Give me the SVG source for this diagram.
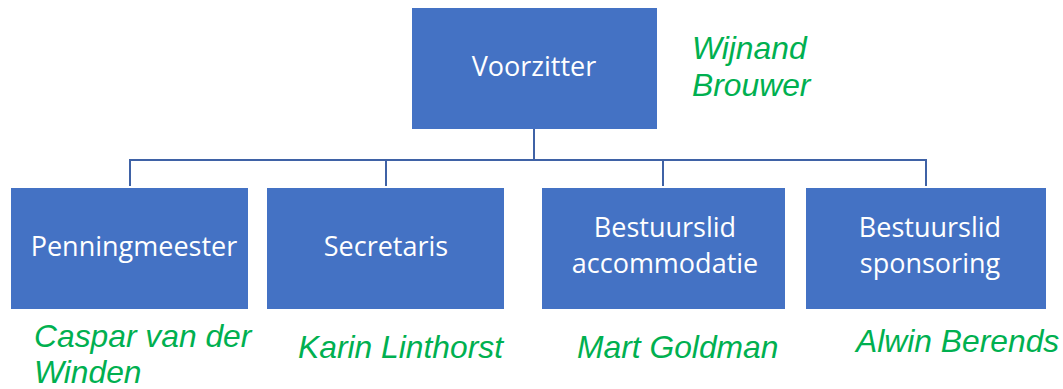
<svg xmlns="http://www.w3.org/2000/svg" width="1063" height="389" viewBox="0 0 1063 389">
<style>
.box{fill:#4472C4;}
.lbl{font-family:"Open Sans","Liberation Sans",sans-serif;font-size:27px;fill:#FFFFFF;text-anchor:middle;}
.name{font-family:"Liberation Sans",Arial,sans-serif;font-style:italic;font-size:31.8px;fill:#00B050;}
.conn{fill:none;stroke:#3F62A6;stroke-width:2;}
</style>
<rect width="1063" height="389" fill="#FFFFFF"/>
<g id="connectors">
<path class="conn" d="M534 129 V160"/>
<path class="conn" d="M130 186 V160 H926 V186"/>
<path class="conn" d="M386 160 V186"/>
<path class="conn" d="M663 160 V186"/>
</g>
<g id="voorzitter">
<rect class="box" x="412" y="8" width="245" height="121"/>
<text class="lbl" x="534" y="76">Voorzitter</text>
</g>
<g id="penningmeester">
<rect class="box" x="11" y="188" width="237" height="121"/>
<text class="lbl" x="134" y="256">Penningmeester</text>
</g>
<g id="secretaris">
<rect class="box" x="267" y="188" width="237" height="121"/>
<text class="lbl" x="386" y="256">Secretaris</text>
</g>
<g id="accommodatie">
<rect class="box" x="542" y="188" width="243" height="121"/>
<text class="lbl" x="665" y="237">Bestuurslid</text>
<text class="lbl" x="665" y="273">accommodatie</text>
</g>
<g id="sponsoring">
<rect class="box" x="806" y="188" width="240" height="121"/>
<text class="lbl" x="930" y="237">Bestuurslid</text>
<text class="lbl" x="930" y="273">sponsoring</text>
</g>
<g id="names">
<text class="name" x="692" y="59">Wijnand</text>
<text class="name" x="692" y="96">Brouwer</text>
<text class="name" x="34" y="347">Caspar van der</text>
<text class="name" x="34" y="383">Winden</text>
<text class="name" x="298" y="358">Karin Linthorst</text>
<text class="name" x="577" y="358">Mart Goldman</text>
<text class="name" x="856" y="352">Alwin Berends</text>
</g>
</svg>
